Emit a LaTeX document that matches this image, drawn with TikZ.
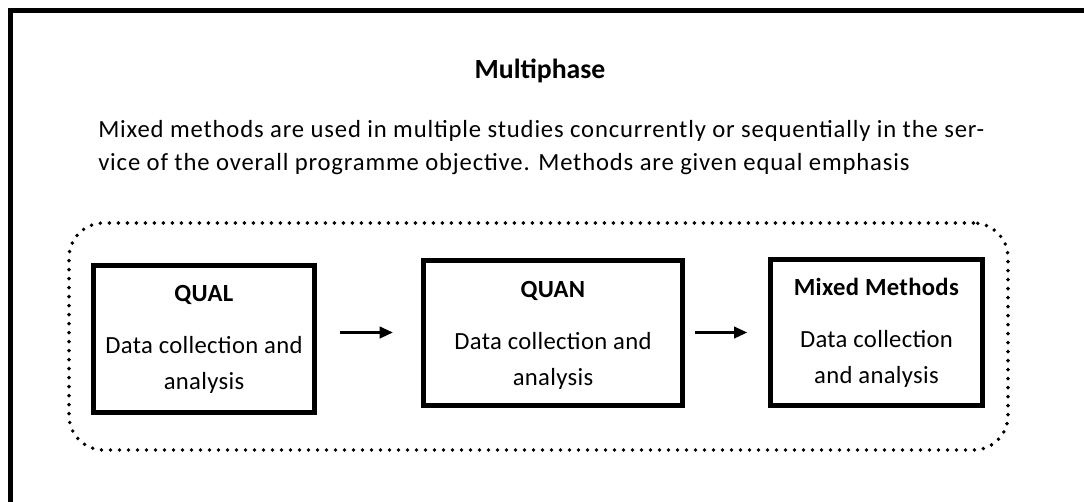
\documentclass[tikz,border=0pt]{standalone}
\usepackage{fontspec}
\setmainfont{Carlito}
\usetikzlibrary{arrows.meta}

\tikzset{
  frame/.style={line width=3.75pt, line cap=rect},
  phasebox/.style={draw, line width=3.75pt, align=center, inner sep=0pt,
    font=\fontsize{18.5}{27}\selectfont\addfontfeatures{LetterSpace=1.3}},
  group/.style={draw, line width=2.9pt, line cap=round,
    dash pattern=on 0pt off 6.75pt, rounded corners=26pt, inner sep=0pt},
  flow/.style={line width=2.25pt, -{Triangle[length=10pt,width=8.5pt]}},
  bodytext/.style={font=\fontsize{18.5}{24.75}\selectfont\addfontfeatures{LetterSpace=3.4},
    align=left, inner sep=0pt},
  heading/.style={font=\fontsize{20.8}{24}\selectfont\bfseries, inner sep=0pt},
}

\begin{document}
\begin{tikzpicture}[x=0.75pt, y=-0.75pt]
  \useasboundingbox (0,0) rectangle (1084,501);
  \fill[white] (0,0) rectangle (1084,501);

  % outer frame, open to the right and bottom
  \draw[frame] (10.5,501) -- (10.5,10.5) -- (1084,10.5);

  % heading and description (base anchor = baseline of the last line)
  \node[heading, anchor=base] (title) at (540,78) {Multiphase};
  \node[bodytext, anchor=base west] (desc) at (98,170)
    {Mixed methods are used in multiple studies concurrently or sequentially in the ser-\\
     vice of the overall programme objective. Methods are given equal emphasis};

  % dotted grouping frame
  \node[group, minimum width=704.25pt, minimum height=170.25pt]
    (grp) at (538.5,336.5) {};

  % the three phases
  \node[phasebox, minimum width=165.75pt, minimum height=110.25pt]
    (qual) at (204,339) {\textbf{QUAL}\\[12pt]Data collection and\\analysis};
  \node[phasebox, minimum width=194.25pt, minimum height=108.75pt]
    (quan) at (553,332.5) {\rule{0pt}{17pt}\textbf{QUAN}\\[12pt]Data collection and\\analysis};
  \node[phasebox, minimum width=159pt, minimum height=109.5pt]
    (mixed) at (876.5,332.5) {\textbf{Mixed Methods}\\[12pt]Data collection\\and analysis};

  % sequence arrows
  \draw[flow, shorten <=17pt, shorten >=21pt] (qual.east |- quan.west) -- (quan.west);
  \draw[flow, shorten <=7.5pt, shorten >=15.5pt] (quan.east) -- (mixed.west |- quan.east);
\end{tikzpicture}
\end{document}
